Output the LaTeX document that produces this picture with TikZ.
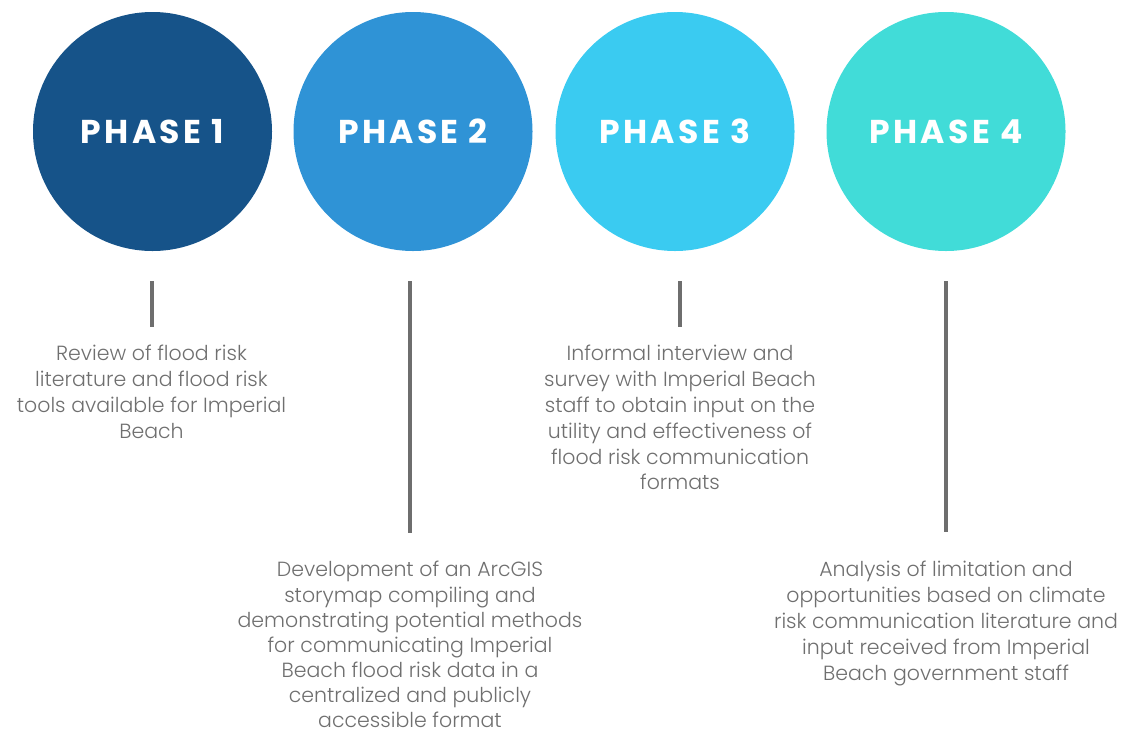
\documentclass[tikz,border=0pt]{standalone}
\usepackage{fontspec}
\IfFontExistsTF{Poppins Light}{\setmainfont{Poppins Light}}{\setmainfont{Poppins}}
\newfontfamily\phasefont[LetterSpace=10]{Poppins}
\usetikzlibrary{positioning}
\definecolor{phaseA}{HTML}{165389}
\definecolor{phaseB}{HTML}{2F93D6}
\definecolor{phaseC}{HTML}{3ACBF1}
\definecolor{phaseD}{HTML}{41DCD8}
\definecolor{textgray}{HTML}{6F6F6F}
\definecolor{stemgray}{HTML}{6E6E6E}
\tikzstyle{phase} = [circle, minimum size=239pt, inner sep=0pt, text=white, font=\phasefont\bfseries\fontsize{33}{38}\selectfont]
\tikzstyle{desc} = [align=center, text=textgray, inner sep=0pt, font=\fontsize{20.5}{25.8}\selectfont]
\tikzstyle{stem} = [draw=stemgray, line width=4pt, shorten <=30pt]

\begin{document}
\begin{tikzpicture}[x=1pt, y=-1pt, node distance=260.5pt]
    \useasboundingbox (0,0) rectangle (1123,737);
    \node[phase, fill=phaseA] (phase1) at (152.5,131.5) {PHASE 1};
    \node[phase, fill=phaseB, right of=phase1] (phase2) {PHASE 2};
    \node[phase, fill=phaseC, right of=phase2, node distance=262pt] (phase3) {PHASE 3};
    \node[phase, fill=phaseD, right of=phase3, node distance=271pt] (phase4) {PHASE 4};

    \node[desc, below=94pt of phase1, xshift=-1pt] (desc1) {Review of flood risk\\literature and flood risk\\tools available for Imperial\\Beach};
    \node[desc, below=310pt of phase2, xshift=-3pt, font=\fontsize{20.5}{25.1}\selectfont] (desc2) {Development of an ArcGIS\\storymap compiling and\\demonstrating potential methods\\for communicating Imperial\\Beach flood risk data in a\\centralized and publicly\\accessible format};
    \node[desc, below=94pt of phase3, xshift=5pt] (desc3) {Informal interview and\\survey with Imperial Beach\\staff to obtain input on the\\utility and effectiveness of\\flood risk communication\\formats};
    \node[desc, below=310pt of phase4] (desc4) {Analysis of limitation and\\opportunities based on climate\\risk communication literature and\\input received from Imperial\\Beach government staff};

    \draw[stem, shorten >=18pt] (desc1.north |- phase1.south) -- (desc1.north);
    \draw[stem, shorten >=28pt] (desc2.north |- phase2.south) -- (desc2.north);
    \draw[stem, shorten >=18pt] (desc3.north |- phase3.south) -- (desc3.north);
    \draw[stem, shorten >=29pt] (desc4.north |- phase4.south) -- (desc4.north);
\end{tikzpicture}
\end{document}
